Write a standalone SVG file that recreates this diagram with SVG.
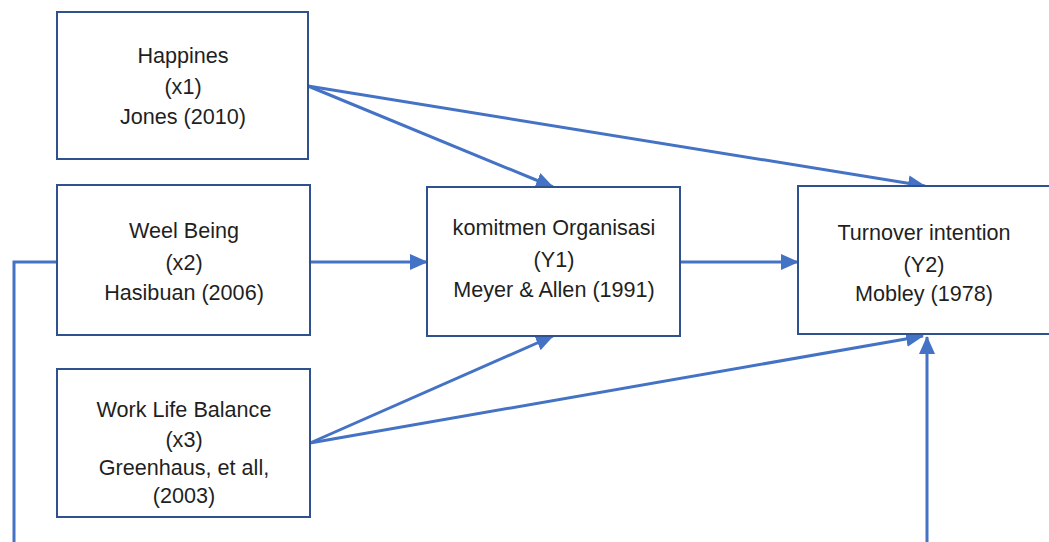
<svg xmlns="http://www.w3.org/2000/svg" width="1049" height="542" viewBox="0 0 1049 542">
<defs>
<style>
.box{fill:#fff;stroke:#2F528F;stroke-width:2}
.t{font-family:"Liberation Sans",Arial,sans-serif;font-size:21.6px;fill:#1f1f1f;text-anchor:middle}
.c{fill:none;stroke:#4472C4;stroke-width:3}
</style>
<marker id="ah" markerUnits="userSpaceOnUse" markerWidth="18" markerHeight="16" refX="17" refY="8" orient="auto">
<path d="M0,0 L18,8 L0,16 z" fill="#4472C4"/>
</marker>
</defs>
<rect width="1049" height="542" fill="#fff"/>
<g id="connectors">
<path class="c" d="M308,86 L553,187" marker-end="url(#ah)"/>
<path class="c" d="M308,86 L925,186" marker-end="url(#ah)"/>
<path class="c" d="M310,262 L427,262" marker-end="url(#ah)"/>
<path class="c" d="M680,262 L798,262" marker-end="url(#ah)"/>
<path class="c" d="M310,443 L553,336" marker-end="url(#ah)"/>
<path class="c" d="M310,443 L923,336" marker-end="url(#ah)"/>
<path class="c" d="M57,262 L14,262 L14,550 L927,550 L927,337" marker-end="url(#ah)"/>
</g>
<g id="happines">
<rect class="box" x="57" y="12" width="251" height="147"/>
<text class="t" x="183" y="63">Happines</text>
<text class="t" x="183" y="94">(x1)</text>
<text class="t" x="183" y="124">Jones (2010)</text>
</g>
<g id="weel-being">
<rect class="box" x="57" y="185" width="253" height="150"/>
<text class="t" x="184" y="238">Weel Being</text>
<text class="t" x="184" y="270">(x2)</text>
<text class="t" x="184" y="300">Hasibuan (2006)</text>
</g>
<g id="work-life-balance">
<rect class="box" x="57" y="369" width="253" height="148"/>
<text class="t" x="184" y="417">Work Life Balance</text>
<text class="t" x="184" y="447">(x3)</text>
<text class="t" x="184" y="475">Greenhaus, et all,</text>
<text class="t" x="184" y="503">(2003)</text>
</g>
<g id="komitmen">
<rect class="box" x="427" y="187" width="253" height="149"/>
<text class="t" x="554" y="235">komitmen Organisasi</text>
<text class="t" x="554" y="267">(Y1)</text>
<text class="t" x="554" y="297">Meyer &amp; Allen (1991)</text>
</g>
<g id="turnover">
<rect class="box" x="798" y="186" width="260" height="148"/>
<text class="t" x="924" y="240">Turnover intention</text>
<text class="t" x="924" y="272">(Y2)</text>
<text class="t" x="924" y="301">Mobley (1978)</text>
</g>
</svg>
